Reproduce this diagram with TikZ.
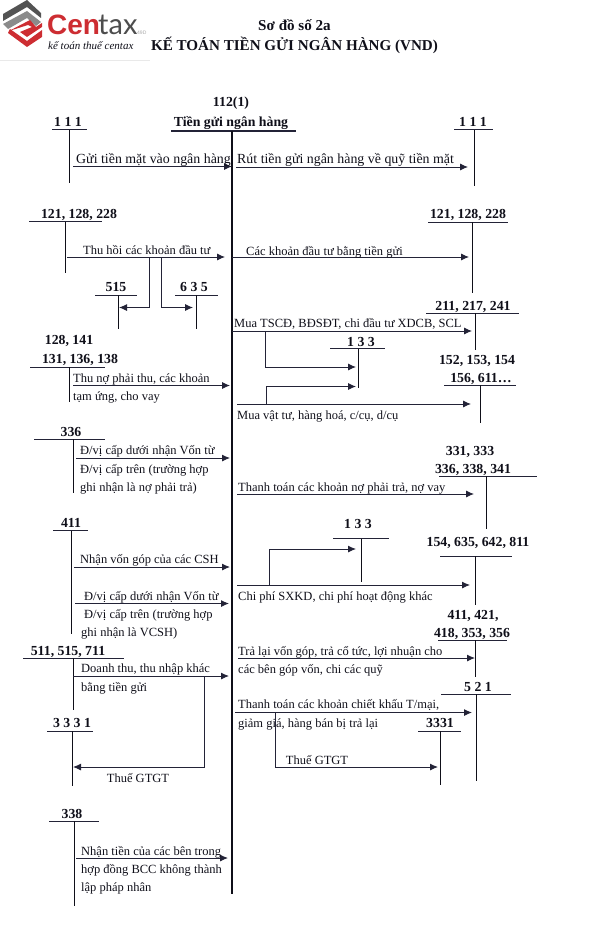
\documentclass[tikz,border=0pt]{standalone}
\usepackage{fontspec}
\setmainfont{Liberation Serif}
\newfontfamily\logofont{Liberation Sans}
\newfontfamily\logothin{Lato}
\definecolor{inkdark}{RGB}{15,15,25}
\definecolor{inkline}{RGB}{35,35,55}
\definecolor{logored}{RGB}{205,45,50}
\definecolor{logogray}{RGB}{110,110,110}
\usetikzlibrary{arrows.meta,positioning,calc}
\tikzset{
  acct/.style={font=\fontsize{13.8}{14}\selectfont\bfseries, text=inkdark, anchor=base, inner sep=0pt},
  note/.style={font=\fontsize{12.5}{13}\selectfont, text=inkdark, anchor=base west, inner sep=0pt},
  notelarge/.style={font=\fontsize{13.9}{14}\selectfont, text=inkdark, anchor=base west, inner sep=0pt},
  title/.style={font=\fontsize{15.1}{15}\selectfont\bfseries, text=inkdark, anchor=base, inner sep=0pt},
  bar/.style={draw=inkline, line width=1pt},
  stem/.style={draw=inkdark, line width=0.9pt},
  flow/.style={draw=inkline, line width=0.9pt, -{Latex[length=8pt,width=7pt]}},
  spine/.style={draw=inkdark, line width=2pt}
}
\begin{document}
\begin{tikzpicture}[x=1pt,y=-1pt]
  \useasboundingbox (0,0) rectangle (597,947);

  % Logo
  \fill[logogray!75!black] (3,14) -- (27,0) -- (41,13) -- (41,18) -- (27,7) -- (3,21) -- cycle;
  \fill[logogray!80] (3,24) -- (27,11) -- (41,22) -- (36,26) -- (27,18) -- (8,29) -- cycle;
  \fill[logored] (9,31) -- (30,20) -- (36,27) -- (42,23) -- (42,27) -- (27,37) -- (20,32) -- (32,27) -- (28,25) -- cycle;
  \fill[logored] (8,33) -- (27,47) -- (42,37) -- (42,30) -- (27,41) -- (10,29) -- cycle;
  \node[font=\logofont\bfseries\fontsize{28}{28}\selectfont, text=logored, anchor=base west, inner sep=0pt] (logocen) at (47,35) {Cen};
  \node[font=\logothin\fontsize{29}{29}\selectfont, text=logogray!70!black, anchor=base west, inner sep=0pt] (logotax) at (98,35) {tax};
  \node[font=\logofont\fontsize{5}{5}\selectfont, text=logogray!60, anchor=base west, inner sep=0pt] (logocode) at (137,35) {49D};
  \node[font=\itshape\fontsize{11}{11}\selectfont, text=inkdark, anchor=base west, inner sep=0pt] (logotag) at (48,50) {kế toán thuế centax};
  \draw[logogray!15, line width=1pt] (0,61) -- (150,61);

  % Title
  \node[title] (title1) at (294.5,31) {Sơ đồ số 2a};
  \node[title] (title2) at (294.5,50.5) {KẾ TOÁN TIỀN GỬI NGÂN HÀNG (VND)};

  % Spine 112(1)
  \node[acct] (t112a) at (231,107) {112(1)};
  \node[acct] (t112b) at (231,127) {Tiền gửi ngân hàng};
  \coordinate (t112l) at (171,131);
  \coordinate (t112r) at (296,131);
  \coordinate (t112s) at (232,131);
  \coordinate (t112e) at (232,894);
  \draw[bar, line width=1.6pt] (t112l) -- (t112r);
  \draw[spine] (t112s) -- (t112e);

  % Row 111
  \node[acct] (l111) at (68,126) {1 1 1};
  \coordinate (l111a) at (52,130); \coordinate (l111b) at (87,130);
  \coordinate (l111s) at (69.5,130); \coordinate (l111e) at (69.5,183);
  \draw[bar] (l111a) -- (l111b);
  \draw[stem] (l111s) -- (l111e);
  \node[acct] (r111) at (473,126) {1 1 1};
  \coordinate (r111a) at (454,130); \coordinate (r111b) at (493,130);
  \coordinate (r111s) at (474,130); \coordinate (r111e) at (474,186);
  \draw[bar] (r111a) -- (r111b);
  \draw[stem] (r111s) -- (r111e);
  \coordinate (f1a) at (73,166.5); \coordinate (f1b) at (232,166.5);
  \draw[flow] (f1a) -- (f1b);
  \node[notelarge] (n1) at (76,163) {Gửi tiền mặt vào ngân hàng};
  \coordinate (f2a) at (236,167); \coordinate (f2b) at (468,167);
  \draw[flow] (f2a) -- (f2b);
  \node[notelarge] (n2) at (237,163) {Rút tiền gửi ngân hàng về quỹ tiền mặt};

  % Row 121
  \node[acct] (l121) at (79,218) {121, 128, 228};
  \coordinate (l121a) at (29,221.5); \coordinate (l121b) at (102,221.5);
  \coordinate (l121s) at (65,221.5); \coordinate (l121e) at (65,273);
  \draw[bar] (l121a) -- (l121b);
  \draw[stem] (l121s) -- (l121e);
  \node[acct] (r121) at (468,218) {121, 128, 228};
  \coordinate (r121a) at (428,222); \coordinate (r121b) at (508,222);
  \coordinate (r121s) at (472,222); \coordinate (r121e) at (472,293);
  \draw[bar] (r121a) -- (r121b);
  \draw[stem] (r121s) -- (r121e);
  \coordinate (f3a) at (67,257); \coordinate (f3b) at (225,257);
  \draw[flow] (f3a) -- (f3b);
  \node[note] (n3) at (83,254) {Thu hồi các khoản đầu tư};
  \coordinate (f4a) at (232,257); \coordinate (f4b) at (469,257);
  \draw[flow] (f4a) -- (f4b);
  \node[note] (n4) at (246,255) {Các khoản đầu tư bằng tiền gửi};

  % 515 and 635
  \node[acct] (a515) at (116,291) {515};
  \coordinate (a515a) at (95,295); \coordinate (a515b) at (137,295);
  \coordinate (a515s) at (118,295); \coordinate (a515e) at (118,329);
  \draw[bar] (a515a) -- (a515b);
  \draw[stem] (a515s) -- (a515e);
  \node[acct] (a635) at (194,291) {6 3 5};
  \coordinate (a635a) at (175,295); \coordinate (a635b) at (218,295);
  \coordinate (a635s) at (196.5,295); \coordinate (a635e) at (196.5,329);
  \draw[bar] (a635a) -- (a635b);
  \draw[stem] (a635s) -- (a635e);
  \coordinate (b515a) at (149.5,257); \coordinate (b515b) at (119,307.5);
  \draw[flow] (b515a) |- (b515b);
  \coordinate (b635a) at (161,257); \coordinate (b635b) at (193,307.5);
  \draw[flow] (b635a) |- (b635b);

  % Row 211 and 133
  \node[acct] (r211) at (473,310) {211, 217, 241};
  \coordinate (r211a) at (426,313); \coordinate (r211b) at (519,313);
  \coordinate (r211s) at (475,313); \coordinate (r211e) at (475,350);
  \draw[bar] (r211a) -- (r211b);
  \draw[stem] (r211s) -- (r211e);
  \coordinate (f5a) at (232,331); \coordinate (f5b) at (472,331);
  \draw[flow] (f5a) -- (f5b);
  \node[note] (n5) at (234,327) {Mua TSCĐ, BĐSĐT, chi đầu tư XDCB, SCL};
  \node[acct] (a133a) at (361,346) {1 3 3};
  \coordinate (a133aa) at (330,348.5); \coordinate (a133ab) at (385,348.5);
  \coordinate (a133as) at (358,348.5); \coordinate (a133ae) at (358,388);
  \draw[bar] (a133aa) -- (a133ab);
  \draw[stem] (a133as) -- (a133ae);
  \coordinate (b133a) at (265.5,331); \coordinate (b133b) at (356,367);
  \draw[flow] (b133a) |- (b133b);
  \coordinate (b133c) at (266.7,404); \coordinate (b133d) at (356,386.5);
  \draw[flow] (b133c) |- (b133d);

  % Row 131
  \node[acct] (l128) at (69,344) {128, 141};
  \node[acct] (l131) at (80,363) {131, 136, 138};
  \coordinate (l131a) at (30,367); \coordinate (l131b) at (105,367);
  \coordinate (l131s) at (69.5,367); \coordinate (l131e) at (69.5,402);
  \draw[bar] (l131a) -- (l131b);
  \draw[stem] (l131s) -- (l131e);
  \coordinate (f6a) at (73,385.5); \coordinate (f6b) at (230,385.5);
  \draw[flow] (f6a) -- (f6b);
  \node[note] (n6a) at (73,382) {Thu nợ phải thu, các khoản};
  \node[note] (n6b) at (73,400) {tạm ứng, cho vay};

  % Row 152
  \node[acct] (r152) at (477,364) {152, 153, 154};
  \node[acct] (r156) at (481,382) {156, 611…};
  \coordinate (r156a) at (444,385); \coordinate (r156b) at (516,385);
  \coordinate (r156s) at (480,385); \coordinate (r156e) at (480,423);
  \draw[bar] (r156a) -- (r156b);
  \draw[stem] (r156s) -- (r156e);
  \coordinate (f7a) at (237,404); \coordinate (f7b) at (471,404);
  \draw[flow] (f7a) -- (f7b);
  \node[note] (n7) at (237,419) {Mua vật tư, hàng hoá, c/cụ, d/cụ};

  % Row 336
  \node[acct] (l336) at (71,436) {336};
  \coordinate (l336a) at (34,439); \coordinate (l336b) at (105,439);
  \coordinate (l336s) at (73,439); \coordinate (l336e) at (73,493);
  \draw[bar] (l336a) -- (l336b);
  \draw[stem] (l336s) -- (l336e);
  \coordinate (f8a) at (76,458); \coordinate (f8b) at (230,458);
  \draw[flow] (f8a) -- (f8b);
  \node[note] (n8a) at (80,454) {Đ/vị cấp dưới nhận Vốn từ};
  \node[note] (n8b) at (80,473) {Đ/vị cấp trên (trường hợp};
  \node[note] (n8c) at (80,491) {ghi nhận là nợ phải trả)};

  % Row 331
  \node[acct] (r331) at (470,455) {331, 333};
  \node[acct] (r336) at (473,473) {336, 338, 341};
  \coordinate (r336a) at (439,476); \coordinate (r336b) at (537,476);
  \coordinate (r336s) at (486,476); \coordinate (r336e) at (486,529);
  \draw[bar] (r336a) -- (r336b);
  \draw[stem] (r336s) -- (r336e);
  \coordinate (f9a) at (237,494); \coordinate (f9b) at (474,494);
  \draw[flow] (f9a) -- (f9b);
  \node[note] (n9) at (238,491) {Thanh toán các khoản nợ phải trả, nợ vay};

  % Row 411
  \node[acct] (l411) at (71,527) {411};
  \coordinate (l411a) at (53,530.5); \coordinate (l411b) at (88,530.5);
  \coordinate (l411s) at (71,530.5); \coordinate (l411e) at (71,634);
  \draw[bar] (l411a) -- (l411b);
  \draw[stem] (l411s) -- (l411e);
  \coordinate (f10a) at (74,567); \coordinate (f10b) at (230,567);
  \draw[flow] (f10a) -- (f10b);
  \node[note] (n10) at (80,563) {Nhận vốn góp của các CSH};
  \coordinate (f11a) at (75,603.5); \coordinate (f11b) at (229,603.5);
  \draw[flow] (f11a) -- (f11b);
  \node[note] (n11a) at (84,600) {Đ/vị cấp dưới nhận Vốn từ};
  \node[note] (n11b) at (84,618) {Đ/vị cấp trên (trường hợp};
  \node[note] (n11c) at (81,636) {ghi nhận là VCSH)};

  % Row 133 and 154
  \node[acct] (a133b) at (358,528) {1 3 3};
  \coordinate (a133ba) at (333,538.5); \coordinate (a133bb) at (389,538.5);
  \coordinate (a133bs) at (361,538.5); \coordinate (a133be) at (361,582);
  \draw[bar] (a133ba) -- (a133bb);
  \draw[stem] (a133bs) -- (a133be);
  \node[acct] (r154) at (478,546) {154, 635, 642, 811};
  \coordinate (r154a) at (440,556); \coordinate (r154b) at (512,556);
  \coordinate (r154s) at (475,556); \coordinate (r154e) at (475,605);
  \draw[bar] (r154a) -- (r154b);
  \draw[stem] (r154s) -- (r154e);
  \coordinate (f12a) at (237,585); \coordinate (f12b) at (470,585);
  \draw[flow] (f12a) -- (f12b);
  \node[note] (n12) at (238,600) {Chi phí SXKD, chi phí hoạt động khác};
  \coordinate (b133e) at (269,585); \coordinate (b133f) at (356,549);
  \draw[flow] (b133e) |- (b133f);

  % Row 411 right
  \node[acct] (r411) at (473,619) {411, 421,};
  \node[acct] (r418) at (472,637) {418, 353, 356};
  \coordinate (r418a) at (438,640); \coordinate (r418b) at (507,640);
  \coordinate (r418s) at (475,640); \coordinate (r418e) at (475,677);
  \draw[bar] (r418a) -- (r418b);
  \draw[stem] (r418s) -- (r418e);
  \coordinate (f13a) at (238,658); \coordinate (f13b) at (475,658);
  \draw[flow] (f13a) -- (f13b);
  \node[note] (n13a) at (238,655) {Trả lại vốn góp, trả cổ tức, lợi nhuận cho};
  \node[note] (n13b) at (238,673) {các bên góp vốn, chi các quỹ};

  % Row 511
  \node[acct] (l511) at (68,655) {511, 515, 711};
  \coordinate (l511a) at (23,658); \coordinate (l511b) at (124,658);
  \coordinate (l511s) at (73,658); \coordinate (l511e) at (73,710);
  \draw[bar] (l511a) -- (l511b);
  \draw[stem] (l511s) -- (l511e);
  \coordinate (f14a) at (73,676); \coordinate (f14b) at (229,676);
  \draw[flow] (f14a) -- (f14b);
  \node[note] (n14a) at (81,672) {Doanh thu, thu nhập khác};
  \node[note] (n14b) at (81,691) {bằng tiền gửi};

  % Left 3331
  \node[acct] (l3331) at (72,727) {3 3 3 1};
  \coordinate (l3331a) at (47,731); \coordinate (l3331b) at (93,731);
  \coordinate (l3331s) at (72.5,731); \coordinate (l3331e) at (72.5,786);
  \draw[bar] (l3331a) -- (l3331b);
  \draw[stem] (l3331s) -- (l3331e);
  \coordinate (b3331a) at (204,677); \coordinate (b3331b) at (73,767);
  \draw[flow] (b3331a) |- (b3331b);
  \node[note, anchor=base] (n15) at (138,782) {Thuế GTGT};

  % Row 521
  \node[acct] (r521) at (478,691) {5 2 1};
  \coordinate (r521a) at (441,694); \coordinate (r521b) at (511,694);
  \coordinate (r521s) at (476,694); \coordinate (r521e) at (476,781);
  \draw[bar] (r521a) -- (r521b);
  \draw[stem] (r521s) -- (r521e);
  \coordinate (f16a) at (235,712.5); \coordinate (f16b) at (472,712.5);
  \draw[flow] (f16a) -- (f16b);
  \node[note] (n16a) at (238,708) {Thanh toán các khoản chiết khấu T/mại,};
  \node[note] (n16b) at (238,727) {giảm giá, hàng bán bị trả lại};

  % Right 3331
  \node[acct] (r3331) at (440,727) {3331};
  \coordinate (r3331a) at (418,731); \coordinate (r3331b) at (461,731);
  \coordinate (r3331s) at (440,731); \coordinate (r3331e) at (440,785);
  \draw[bar] (r3331a) -- (r3331b);
  \draw[stem] (r3331s) -- (r3331e);
  \coordinate (b3331c) at (275.5,712.5); \coordinate (b3331d) at (438,767);
  \draw[flow] (b3331c) |- (b3331d);
  \node[note, anchor=base] (n17) at (317,764) {Thuế GTGT};

  % Row 338
  \node[acct] (l338) at (72,818) {338};
  \coordinate (l338a) at (49,821); \coordinate (l338b) at (99,821);
  \coordinate (l338s) at (74.5,821); \coordinate (l338e) at (74.5,906);
  \draw[bar] (l338a) -- (l338b);
  \draw[stem] (l338s) -- (l338e);
  \coordinate (f18a) at (76,858); \coordinate (f18b) at (228,858);
  \draw[flow] (f18a) -- (f18b);
  \node[note] (n18a) at (81,855) {Nhận tiền của các bên trong};
  \node[note] (n18b) at (81,873) {hợp đồng BCC không thành};
  \node[note] (n18c) at (81,891) {lập pháp nhân};
\end{tikzpicture}
\end{document}
